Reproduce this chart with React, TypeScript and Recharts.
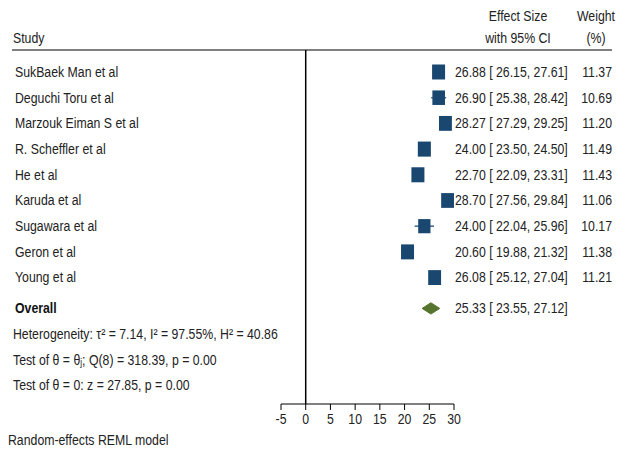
import React from "react";
import { ComposedChart, Scatter, Area, XAxis, YAxis, ErrorBar, ReferenceLine, Customized } from "recharts";

// study rows
const studies = [
  "SukBaek Man et al",
  "Deguchi Toru et al",
  "Marzouk Eiman S et al",
  "R. Scheffler et al",
  "He et al",
  "Karuda et al",
  "Sugawara et al",
  "Geron et al",
  "Young et al",
];
const effects = [26.88, 26.9, 28.27, 24.0, 22.7, 28.7, 24.0, 20.6, 26.08];
const lowers = [26.15, 25.38, 27.29, 23.5, 22.09, 27.56, 22.04, 19.88, 25.12];
const uppers = [27.61, 28.42, 29.25, 24.5, 23.31, 29.84, 25.96, 21.32, 27.04];
const weights = [11.37, 10.69, 11.2, 11.49, 11.43, 11.06, 10.17, 11.38, 11.21];

const overallEffect = 25.33;
const overallCI = [23.55, 27.12];

const xTicks = [-5, 0, 5, 10, 15, 20, 25, 30];

const FONT = "'Liberation Sans', Arial, sans-serif";
const FS = 15;
const SQUEEZE = 0.82; // mimic Arial Narrow
const NAVY = "#1a476f";
const GREEN = "#55752f";
const TEXT = "#222";

// layout (row units on the y scale)
const OVERALL_ROW = 10.2;
const STAT_ROWS = [11.2, 12.2, 13.2];
const DIAMOND_HALF = 0.22;

const fmt = (v: number) => v.toFixed(2);
const ciText = (es: number, lo: number, hi: number) => `${fmt(es)} [ ${fmt(lo)}, ${fmt(hi)}]`;

const rows = studies.map((s, i) => ({
  name: s,
  x: effects[i],
  y: i + 1,
  lo: lowers[i],
  hi: uppers[i],
  w: weights[i],
  err: [effects[i] - lowers[i], uppers[i] - effects[i]],
}));

const overallRow = [{ x: overallEffect, y: OVERALL_ROW, lo: overallCI[0], hi: overallCI[1] }];

const diamond = [
  { x: overallCI[0], d: [OVERALL_ROW, OVERALL_ROW] },
  { x: overallEffect, d: [OVERALL_ROW - DIAMOND_HALF, OVERALL_ROW + DIAMOND_HALF] },
  { x: overallCI[1], d: [OVERALL_ROW, OVERALL_ROW] },
];

const statRows = [
  {
    x: -5,
    y: STAT_ROWS[0],
    parts: <>Heterogeneity: τ² = 7.14, I² = 97.55%, H² = 40.86</>,
  },
  {
    x: -5,
    y: STAT_ROWS[1],
    parts: (
      <>
        Test of θ = θ
        <tspan fontSize={10} dy={3}>j</tspan>
        <tspan dy={-3}>; Q(8) = 318.39, p = 0.00</tspan>
      </>
    ),
  },
  {
    x: -5,
    y: STAT_ROWS[2],
    parts: <>Test of θ = 0: z = 27.85, p = 0.00</>,
  },
];

// condensed text, anchored at (x, y)
const T = ({ x, y, anchor = "start", weight, fill = TEXT, children }: any) => (
  <text
    transform={`translate(${x},${y}) scale(${SQUEEZE},1)`}
    x={0}
    y={0}
    textAnchor={anchor}
    dominantBaseline="central"
    fontSize={FS}
    fontWeight={weight}
    fill={fill}
  >
    {children}
  </text>
);

const StudyShape = (props: any) => {
  const { cx, cy, payload } = props;
  const k = Math.sqrt(payload.w / 11.4);
  const bw = 13 * k;
  const bh = 15 * k;
  return (
    <g>
      <rect x={cx - bw / 2} y={cy - bh / 2} width={bw} height={bh} fill={NAVY} />
      <T x={15} y={cy}>{payload.name}</T>
      <T x={455} y={cy}>{ciText(payload.x, payload.lo, payload.hi)}</T>
      <T x={612} y={cy} anchor="end">{fmt(payload.w)}</T>
    </g>
  );
};

const OverallShape = (props: any) => {
  const { cy, payload } = props;
  return (
    <g>
      <T x={15} y={cy} weight="bold" fill="#111">Overall</T>
      <T x={455} y={cy}>{ciText(payload.x, payload.lo, payload.hi)}</T>
    </g>
  );
};

const StatShape = (props: any) => {
  const { cy, payload } = props;
  return <T x={13} y={cy}>{payload.parts}</T>;
};

const Tick = (props: any) => {
  const { x, y, payload } = props;
  return <T x={x} y={y + 7} anchor="middle">{payload.value}</T>;
};

const Frame = () => (
  <g>
    <T x={518} y={16} anchor="middle">Effect Size</T>
    <T x={518} y={38} anchor="middle">with 95% CI</T>
    <T x={596} y={16} anchor="middle">Weight</T>
    <T x={596} y={38} anchor="middle">(%)</T>
    <T x={13} y={38}>Study</T>
    <line x1={12} x2={612} y1={50} y2={50} stroke="#555" strokeWidth={1.5} />
    <T x={8} y={440}>Random-effects REML model</T>
  </g>
);

export default function App() {
  return (
    <div style={{ position: "absolute", left: 0, top: 0, background: "#fff", fontFamily: FONT }}>
      <ComposedChart width={619} height={452} margin={{ top: 50, right: 165, left: 281, bottom: 0 }}>
        <XAxis
          type="number"
          dataKey="x"
          domain={[-5, 30]}
          ticks={xTicks}
          interval={0}
          height={48}
          tickSize={6}
          tick={<Tick />}
          axisLine={{ stroke: "#000" }}
          tickLine={{ stroke: "#000" }}
        />
        <YAxis type="number" dataKey="y" domain={[0.144, 13.92]} reversed hide />
        <ReferenceLine x={0} stroke="#000" strokeWidth={1.5} />
        <Customized component={Frame} />
        <Area
          data={diamond}
          dataKey="d"
          type="linear"
          fill={GREEN}
          fillOpacity={1}
          stroke={GREEN}
          isAnimationActive={false}
        />
        <Scatter data={rows} shape={<StudyShape />} isAnimationActive={false}>
          <ErrorBar dataKey="err" direction="x" width={0} stroke="#3d6591" strokeWidth={1.5} />
        </Scatter>
        <Scatter data={overallRow} shape={<OverallShape />} isAnimationActive={false} />
        <Scatter data={statRows} shape={<StatShape />} isAnimationActive={false} />
      </ComposedChart>
    </div>
  );
}
